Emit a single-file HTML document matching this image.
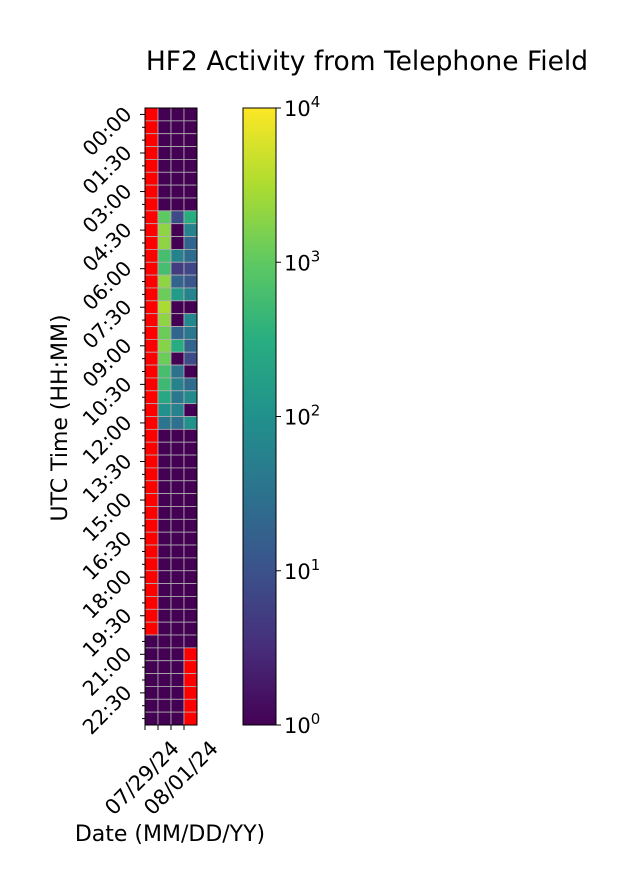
<!DOCTYPE html>
<html><head><meta charset="utf-8"><style>
body{margin:0;background:#fff;}
svg{display:block;font-family:"DejaVu Sans","Liberation Sans",sans-serif;}
</style></head><body>
<svg id="chart" width="639" height="895">
<text x="367" y="70" font-size="26.5" text-anchor="middle">HF2 Activity from Telephone Field</text>
<g id="cells"></g>
<g id="axes"></g>
<text transform="translate(67,418) rotate(-90)" font-size="22" text-anchor="middle">UTC Time (HH:MM)</text>
<text x="170" y="841" font-size="22" text-anchor="middle">Date (MM/DD/YY)</text>
<defs><linearGradient id="vir" x1="0" y1="1" x2="0" y2="0">
<stop offset="0" stop-color="#440154"/><stop offset="0.125" stop-color="#472d7b"/><stop offset="0.25" stop-color="#3b528b"/><stop offset="0.375" stop-color="#2c728e"/><stop offset="0.5" stop-color="#21918c"/><stop offset="0.625" stop-color="#28ae80"/><stop offset="0.75" stop-color="#5ec962"/><stop offset="0.875" stop-color="#addc30"/><stop offset="1" stop-color="#fde725"/>
</linearGradient></defs>
<rect x="243" y="108" width="33" height="617" fill="url(#vir)" stroke="#000" stroke-width="1"/>
<g id="cbar"></g>
</svg>
<script>
const dates = ["07/29/24","07/30/24","07/31/24","08/01/24"];
const dateTickLabels = ["07/29/24","","","08/01/24"];
const times = [];
for (let i = 0; i < 48; i++) times.push(String(Math.floor(i/2)).padStart(2,"0")+":"+(i%2?"30":"00"));
// null = missing (red)
const col0 = []; for (let i=0;i<48;i++) col0.push(i<=40?null:1);
const col1 = [1,1,1,1,1,1,1,1,1000,2000,2000,600,600,2000,1200,3000,2000,1200,1800,1200,600,500,250,100,35,1,1,1,1,1,1,1,1,1,1,1,1,1,1,1,1,1,1,1,1,1,1,1];
const col2 = [1,1,1,1,1,1,1,1,8,1,1,60,5,20,150,1,1,20,300,1,30,60,40,60,30,1,1,1,1,1,1,1,1,1,1,1,1,1,1,1,1,1,1,1,1,1,1,1];
const col3 = [1,1,1,1,1,1,1,1,300,60,20,25,7,12,60,1,70,40,20,8,1,25,80,1,100,1,1,1,1,1,1,1,1,1,1,1,1,1,1,1,1,1,null,null,null,null,null,null];
const series = [col0,col1,col2,col3];
const cbarTicks = [0,1,2,3,4];

const X0=145,X1=197,Y0=108,Y1=725,VMIN=0,VMAX=4;
const cw=(X1-X0)/dates.length, rh=(Y1-Y0)/times.length;
const xPos=i=>X0+i*cw, yPos=j=>Y0+j*rh;
const cbY=v=>Y1-(v-VMIN)/(VMAX-VMIN)*(Y1-Y0);
const vir=[[68,1,84],[71,45,123],[59,82,139],[44,114,142],[33,145,140],[40,174,128],[94,201,98],[173,220,48],[253,231,37]];
function color(v){
  if(v===null) return "#ff0000";
  let t=Math.max(0,Math.min(1,(Math.log10(v)-VMIN)/(VMAX-VMIN)))*8;
  let k=Math.min(7,Math.floor(t)),f=t-k,a=vir[k],b=vir[k+1];
  return "rgb("+a.map((c,i)=>Math.round(c+(b[i]-c)*f)).join(",")+")";
}
const NS="http://www.w3.org/2000/svg";
const mk=(tag,attrs,parent)=>{const e=document.createElementNS(NS,tag);for(const k in attrs)e.setAttribute(k,attrs[k]);parent.appendChild(e);return e;};
const cells=document.getElementById("cells"),axes=document.getElementById("axes"),cbar=document.getElementById("cbar");
series.forEach((col,i)=>col.forEach((v,j)=>{
  const r=mk("rect",{x:xPos(i),y:yPos(j),width:cw,height:rh,fill:color(v),stroke:"#b0b0b0","stroke-width":0.8},cells);
  
  
}));
const fr=mk("rect",{x:X0,y:Y0,width:X1-X0,height:Y1-Y0,fill:"none",stroke:"#000","stroke-width":1},axes);


times.forEach((t,j)=>{
  const y=yPos(j)+rh/2;
  mk("line",{x1:X0,x2:X0-(j%3===0?5:3),y1:y,y2:y,stroke:"#000"},axes);
  if(j%3===0){
    const tx=mk("text",{x:0,y:0,"font-size":20.5,"text-anchor":"end",transform:`translate(133,${y+1}) rotate(-45)`},axes);
    tx.textContent=t;
    
    
  }
});
dates.forEach((d,i)=>{
  const x=xPos(i);
  mk("line",{x1:x,x2:x,y1:Y1,y2:Y1+5,stroke:"#000"},axes);
  if(dateTickLabels[i]){
    const tx=mk("text",{x:0,y:7,"font-size":21,"text-anchor":"middle",transform:`translate(${x-3},778) rotate(-45)`},axes);
    tx.textContent=dateTickLabels[i];
    
    
  }
});
cbarTicks.forEach(p=>{
  const y=cbY(p);
  mk("line",{x1:276,x2:281,y1:y,y2:y,stroke:"#000"},cbar);
  const tx=mk("text",{x:284,y:y+8,"font-size":21},cbar);
  tx.textContent="10";
  const s=mk("tspan",{dy:-9,"font-size":15},tx);
  s.textContent=String(p);
  
  
});
</script>
</body></html>
